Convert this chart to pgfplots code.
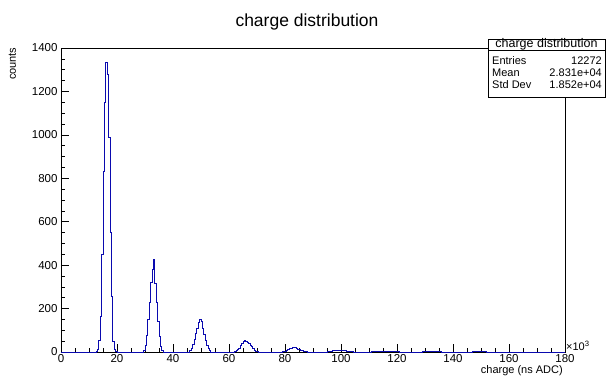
\documentclass[border=0pt]{standalone}
\usepackage{fontspec}
\setmainfont{Liberation Sans}
\usepackage{pgfplots}
\pgfplotsset{compat=1.18}
\definecolor{hblue}{RGB}{10,10,175}
\begin{document}
\begin{tikzpicture}[x=1pt,y=1pt]
\path[use as bounding box] (-61,-24) rectangle (545,352);
\begin{axis}[
  at={(0,0)}, anchor=south west, scale only axis,
  width=504pt, height=304pt,
  xmin=0, xmax=180, ymin=0, ymax=1400,
  axis line style={line width=0.8pt},
  tick align=inside, xtick pos=bottom, ytick pos=left,
  xtick={0,20,...,180}, ytick={0,200,...,1400},
  minor x tick num=3, minor y tick num=3,
  major tick length=8pt, minor tick length=4pt,
  tick style={black, line width=0.6pt},
  ticklabel style={font=\fontsize{11.5}{13}\selectfont, inner sep=1pt},
  xticklabel style={yshift=-0.8pt},
  yticklabel style={xshift=-2.3pt},
  /pgf/number format/assume math mode=true,
  /pgf/number format/1000 sep={},
  scaled x ticks=false, scaled y ticks=false,
  clip=false,
]
\addplot[const plot, hblue, line width=0.9pt] coordinates {
(0,0)(12.5,0)
(12.5,4)(13.0,12)(13.5,55)(14.0,165)(14.5,450)(15.0,830)(15.5,1150)(16.0,1335)(16.5,1280)(17.0,990)(17.5,550)(18.0,255)(18.5,50)(19.0,12)(19.5,3)(20.0,0)
(29.5,8)(30,28)(30.5,75)(31,150)(31.5,230)(32,320)(32.5,380)(33,427)(33.5,316)(34,230)(34.5,140)(35,70)(35.5,25)(36,6)(36.5,0)
(46,5)(46.5,15)(47,35)(47.5,60)(48,85)(48.5,110)(49,135)(49.5,148)(50,140)(50.5,110)(51,80)(51.5,55)(52,30)(52.5,15)(53,5)(53.5,0)
(62,3)(62.5,6)(63,10)(63.5,18)(64,28)(64.5,38)(65,48)(65.5,52)(66,50)(66.5,45)(67,40)(67.5,32)(68,25)(68.5,15)(69,8)(69.5,4)(70,2)(70.5,0)
(79,1)(79.5,2)(80,4)(80.5,7)(81,11)(81.5,15)(82,18)(82.5,20)(83,20)(83.5,19)(84,16)(84.5,13)(85,10)(85.5,7)(86,5)(86.5,3)(87,2)(87.5,1)(88,0)
(95,1)(95.5,2)(96,3)(96.5,4)(97,5)(97.5,6)(98,7)(98.5,8)(99,8)(99.5,8)(100,7)(100.5,7)(101,6)(101.5,5)(102,4)(102.5,3)(103,2)(103.5,1)(104,1)(104.5,0)
(111,1)(112,2)(113,3)(114,3)(115,4)(116,4)(117,3)(118,3)(119,2)(120,1)(121,0)
(129,1)(130,1)(131,2)(132,2)(133,2)(134,1)(135,1)(136,0)
(147,1)(152,0)(180,0)
};
\end{axis}
% title and labels
\node[font=\fontsize{17.5}{20}\selectfont] at (246,330) {charge distribution};
\node[rotate=90, anchor=base east, font=\fontsize{11}{13}\selectfont] at (-45,308) {counts};
\node[anchor=base east, inner sep=0pt, font=\fontsize{11}{13}\selectfont] at (502,-21.7) {charge (ns ADC)};
\node[anchor=base west, inner sep=0pt, font=\fontsize{11}{13}\selectfont] at (505,2) {×10\textsuperscript{3}};
% stats box
\draw[line width=0.8pt, fill=white] (427,255) rectangle (544,313);
\draw[line width=0.8pt] (427,302) -- (544,302);
\node[font=\fontsize{12.5}{14}\selectfont] at (485.5,307.5) {charge distribution};
\begin{scope}[every node/.style={inner sep=0pt, font=\fontsize{11}{13}\selectfont}]
\node[anchor=base west] at (431,288) {Entries};
\node[anchor=base east] at (541,288) {12272};
\node[anchor=base west] at (431,276) {Mean};
\node[anchor=base east] at (541,276) {2.831e+04};
\node[anchor=base west] at (431,264) {Std Dev};
\node[anchor=base east] at (541,264) {1.852e+04};
\end{scope}
\end{tikzpicture}
\end{document}
